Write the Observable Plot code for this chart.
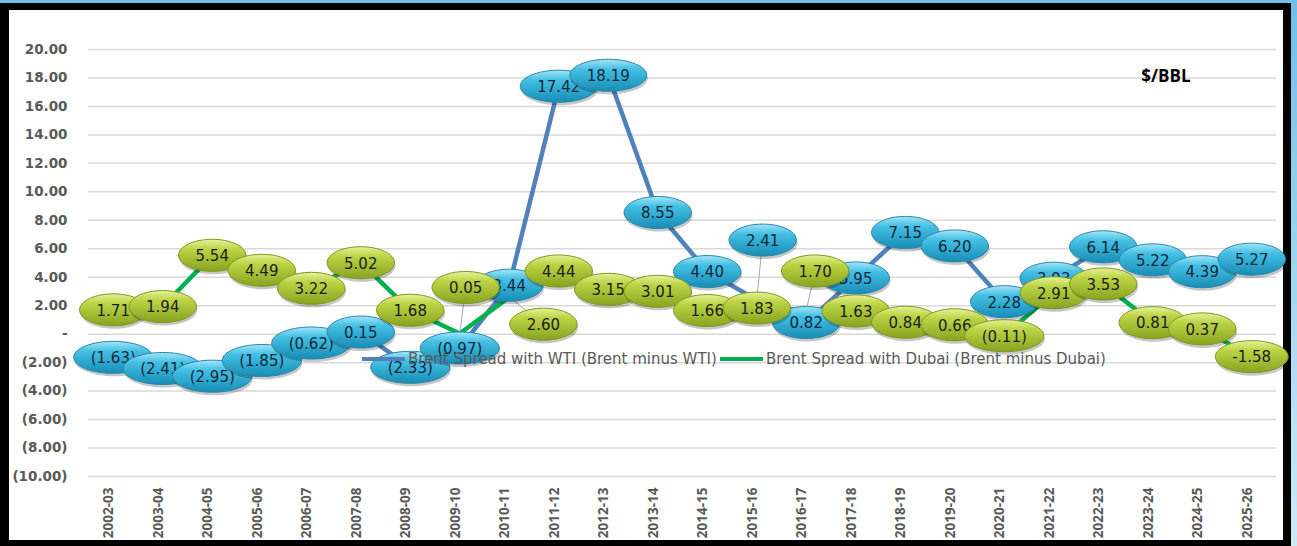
<!DOCTYPE html>
<html>
<head>
<meta charset="utf-8">
<script src="https://cdn.jsdelivr.net/npm/d3@7"></script>
<script src="https://cdn.jsdelivr.net/npm/@observablehq/plot@0.6"></script>
<style>
  html, body { margin: 0; padding: 0; }
  body { width: 1297px; height: 546px; overflow: hidden; position: relative;
         background: linear-gradient(180deg, #6fbfe8 0%, #a9dbf3 60%, #cfe9f5 100%);
         font-family: "DejaVu Sans", sans-serif; }
  #frame { position: absolute; left: 0; top: 3px; width: 1291px; height: 543px; box-sizing: border-box;
           border-style: solid; border-color: #000; border-width: 7px 8px 6px 9px; background: #fff; }
  #chart { position: absolute; left: 0; top: 0; }
  #legend { position: absolute; left: 362px; top: 350px; display: flex; align-items: center;
            font-family: "DejaVu Sans", sans-serif; font-size: 15px; color: #595959; white-space: nowrap; }
  #legend .sw { display: inline-block; width: 43px; height: 4px; margin-right: 3px; }
  #legend .item { display: flex; align-items: center; margin-right: 3px; }
</style>
</head>
<body>
<svg width="0" height="0" style="position:absolute">
  <defs>
    <linearGradient id="gBlue" x1="0" y1="0" x2="0" y2="1">
      <stop offset="0%" stop-color="#a4e6f8"/>
      <stop offset="30%" stop-color="#45c0e4"/>
      <stop offset="100%" stop-color="#178db5"/>
    </linearGradient>
    <linearGradient id="gGreen" x1="0" y1="0" x2="0" y2="1">
      <stop offset="0%" stop-color="#e6f19c"/>
      <stop offset="30%" stop-color="#bcd444"/>
      <stop offset="100%" stop-color="#88a320"/>
    </linearGradient>
  </defs>
</svg>
<div id="frame"></div>
<div id="chart"></div>
<div id="legend"></div>
<script>
// ---- data ----
const years = ["2002-03","2003-04","2004-05","2005-06","2006-07","2007-08","2008-09","2009-10","2010-11","2011-12","2012-13","2013-14","2014-15","2015-16","2016-17","2017-18","2018-19","2019-20","2020-21","2021-22","2022-23","2023-24","2024-25","2025-26"];
const wti   = [-1.63,-2.41,-2.95,-1.85,-0.62,0.15,-2.33,-0.97,3.44,17.42,18.19,8.55,4.40,2.41,0.82,3.95,7.15,6.20,2.28,3.93,6.14,5.22,4.39,5.27];
const dubai = [1.71,1.94,5.54,4.49,3.22,5.02,1.68,0.05,2.60,4.44,3.15,3.01,1.66,1.83,1.70,1.63,0.84,0.66,-0.11,2.91,3.53,0.81,0.37,-1.58];
const seriesNames = ["Brent Spread with WTI (Brent minus WTI)", "Brent Spread with Dubai (Brent minus Dubai)"];
const yTicks = d3.range(-10, 21, 2);
const unitLabel = "$/BBL";
// labels the source chart moved off their points (offsets in axis units), with leader lines
const labelMoves = [
  {series: 0, year: "2015-16", dx: 0.12, dy: 4.2},
  {series: 1, year: "2009-10", dx: 0.12, dy: 3.23},
  {series: 1, year: "2010-11", dx: 0.69, dy: -1.9},
  {series: 1, year: "2016-17", dx: 0.18, dy: 2.74}
];
// labels shown with a plain minus sign instead of brackets
const plainMinus = [{series: 1, year: "2025-26"}];

// ---- styles ----
const lineColors = ["#4f81bd", "#00b050"];
const bubbleFill = ["url(#gBlue)", "url(#gGreen)"];
const bubbleStroke = ["#2887a9", "#7f9720"];
const textColor = ["#10283a", "#1c1c1c"];
const labelFont = "DejaVu Sans";
const labelSize = 15;

const fmtY = v => v === 0 ? "-" : v < 0 ? `(${(-v).toFixed(2)})` : v.toFixed(2);
const fmtLabel = (v, s, yr) => plainMinus.some(p => p.series === s && p.year === yr) ? v.toFixed(2)
  : (v < 0 ? `(${(-v).toFixed(2)})` : v.toFixed(2));

const cvs = document.createElement("canvas").getContext("2d");
cvs.font = `${labelSize}px "${labelFont}"`;
const RY = 16;
const ellipse = {
  draw(ctx, size) {
    const rx = Math.sqrt(size / Math.PI), ry = RY, k = 0.5523;
    ctx.moveTo(rx, 0);
    ctx.bezierCurveTo(rx, ry * k, rx * k, ry, 0, ry);
    ctx.bezierCurveTo(-rx * k, ry, -rx, ry * k, -rx, 0);
    ctx.bezierCurveTo(-rx, -ry * k, -rx * k, -ry, 0, -ry);
    ctx.bezierCurveTo(rx * k, -ry, rx, -ry * k, rx, 0);
    ctx.closePath();
  }
};

const series = [wti, dubai];
const points = series.map((vals, s) => vals.map((v, i) => {
  const mv = labelMoves.find(m => m.series === s && m.year === years[i]);
  const label = fmtLabel(v, s, years[i]);
  return {s, i, year: years[i], value: v, label,
          lx: i + (mv ? mv.dx : 0), ly: v + (mv ? mv.dy : 0),
          rx: cvs.measureText(label).width / 2 + 17, moved: !!mv};
}));

const bubbleMarks = [];
for (const s of [0, 1]) {
  for (const p of points[s]) {
    bubbleMarks.push(
      Plot.dot([p], {x: "lx", y: "ly", r: "rx", symbol: ellipse, fill: "#000", fillOpacity: 0.22, dx: 1, dy: 3, sort: null}),
      Plot.dot([p], {x: "lx", y: "ly", r: "rx", symbol: ellipse, fill: bubbleFill[s], stroke: bubbleStroke[s], strokeWidth: 1, sort: null}),
      Plot.text([p], {x: "lx", y: "ly", text: "label", fill: textColor[s], fontSize: labelSize, fontFamily: labelFont, dy: 1})
    );
  }
}

const moved = points.flat().filter(p => p.moved);

const chart = Plot.plot({
  width: 1297, height: 546,
  marginLeft: 88, marginRight: 21, marginTop: 49, marginBottom: 70,
  style: {background: "transparent", fontFamily: "DejaVu Sans", overflow: "visible"},
  x: {domain: [-0.5, years.length - 0.5], axis: null},
  y: {domain: [-10, 20], axis: null},
  r: {type: "identity"},
  marks: [
    Plot.ruleY(yTicks, {stroke: "#d9d9d9", strokeWidth: 1.5}),
    Plot.text(yTicks, {y: d => d, text: fmtY, frameAnchor: "left", dx: -21, textAnchor: "end",
                       fontWeight: "bold", fontSize: 13.5, fill: "#595959", fontFamily: "DejaVu Sans"}),
    Plot.text(years, {x: (d, i) => i, text: d => d, frameAnchor: "bottom", rotate: -90, textAnchor: "end",
                      dy: 11, fontWeight: "bold", fontSize: 13.5, fill: "#595959", fontFamily: "Open Sans"}),
    Plot.text([unitLabel], {frameAnchor: "top-right", dx: -86, dy: 20, textAnchor: "end",
                            fontWeight: "bold", fontSize: 17, fill: "#000", fontFamily: "Open Sans"}),
    Plot.line(wti.map((v, i) => ({i, v})), {x: "i", y: "v", stroke: lineColors[0], strokeWidth: 4.5, strokeLinejoin: "round"}),
    Plot.line(dubai.map((v, i) => ({i, v})), {x: "i", y: "v", stroke: lineColors[1], strokeWidth: 4.5, strokeLinejoin: "round"}),
    Plot.link(moved, {x1: "i", y1: "value", x2: "lx", y2: "ly", stroke: "#a6a6a6", strokeWidth: 1}),
    ...bubbleMarks
  ]
});
document.getElementById("chart").appendChild(chart);

const legend = document.getElementById("legend");
seriesNames.forEach((name, k) => {
  const item = document.createElement("span");
  item.className = "item";
  const sw = document.createElement("span");
  sw.className = "sw";
  sw.style.background = lineColors[k];
  item.appendChild(sw);
  item.appendChild(document.createTextNode(name));
  legend.appendChild(item);
});
</script>
</body>
</html>
